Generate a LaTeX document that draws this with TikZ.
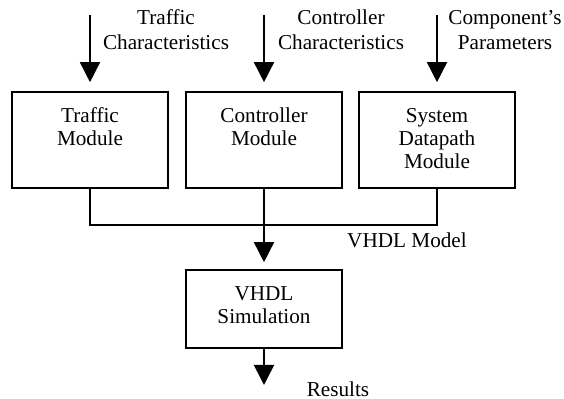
\documentclass[tikz,border=0pt]{standalone}
\usepackage{fontspec}
\setmainfont{Liberation Serif}
\usetikzlibrary{arrows.meta}

\tikzset{
  module/.style={draw, line width=0.8pt, inner sep=0pt, minimum width=78pt},
  flow/.style={line width=0.8pt, -{Triangle[length=10pt,width=10pt]}},
  wire/.style={line width=0.8pt},
  caption/.style={align=center, font=\fontsize{10.6}{12.5}\selectfont}
}
% text of a box, hung from its top edge
\newcommand{\boxlines}[2]{\parbox[c][#1][t]{76pt}{\centering\rule{0pt}{15.5pt}#2}}

\begin{document}
\begin{tikzpicture}[x=0.5pt, y=-0.5pt, font=\fontsize{10.6}{11.5}\selectfont]
    \useasboundingbox (0,0) rectangle (564,399);

    \node[module] (traffic) at (90,140) {\boxlines{48pt}{Traffic\\Module}};
    \node[module] (control) at (264,140) {\boxlines{48pt}{Controller\\Module}};
    \node[module] (datapath) at (437,140) {\boxlines{48pt}{System\\Datapath\\Module}};
    \node[module] (sim) at (264,309) {\boxlines{39pt}{VHDL\\Simulation}};

    \node[caption] (tlab) at (166,30) {Traffic\\Characteristics};
    \node[caption] (clab) at (341,30) {Controller\\Characteristics};
    \node[caption] (dlab) at (505,30) {Component's\\Parameters};

    \coordinate (tin) at (90,15);
    \coordinate (cin) at (264,15);
    \coordinate (din) at (437,15);
    \draw[flow, shorten >=4.5pt] (tin) -- (traffic.north);
    \draw[flow, shorten >=4.5pt] (cin) -- (control.north);
    \draw[flow, shorten >=4.5pt] (din) -- (datapath.north);

    \coordinate (bus) at (264,225);
    \draw[wire] (traffic.south) |- (bus) -| (datapath.south);
    \draw[flow, shorten >=3.5pt] (control.south) -- (sim.north);
    \node[anchor=base] (mlab) at (407,248) {VHDL Model};

    \coordinate (res) at (264,385);
    \draw[flow] (sim.south) -- (res);
    \node[anchor=base] (rlab) at (338,397) {Results};
  \end{tikzpicture}
\end{document}
